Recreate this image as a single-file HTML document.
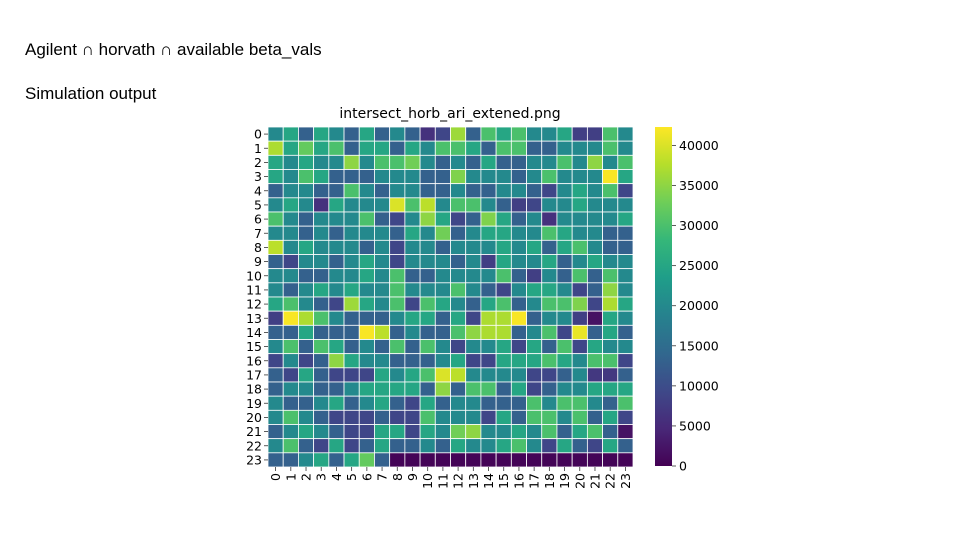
<!DOCTYPE html>
<html><head><meta charset="utf-8">
<style>
body{margin:0;width:960px;height:540px;background:#fff;overflow:hidden;font-family:"Liberation Sans",sans-serif;}
.t{position:absolute;left:25px;font-size:17px;color:#000;}
</style></head>
<body>
<div class="t" style="top:40px">Agilent ∩ horvath ∩ available beta_vals</div>
<div class="t" style="top:84px">Simulation output</div>
<svg id="chart" width="960" height="540" style="position:absolute;left:0;top:0">
<defs><linearGradient id="cbg" x1="0" y1="1" x2="0" y2="0"></linearGradient></defs>
<text x="450" y="118" text-anchor="middle" font-family="DejaVu Sans,sans-serif" font-size="14">intersect_horb_ari_extened.png</text>
</svg>
<script>
// values in thousands
const rowLabels = ["0","1","2","3","4","5","6","7","8","9","10","11","12","13","14","15","16","17","18","19","20","21","22","23"];
const colLabels = ["0","1","2","3","4","5","6","7","8","9","10","11","12","13","14","15","16","17","18","19","20","21","22","23"];
const values = [
[20,25,13,25,20,13,25,13,20,13,6,9,36,13,30,25,30,20,20,25,8,8,30,20],
[37,25,32,25,30,13,25,25,13,25,20,30,30,25,13,30,30,13,13,20,20,20,30,20],
[25,20,25,20,20,35,20,30,30,33,20,13,20,13,25,13,13,20,20,30,20,35,20,30],
[25,20,30,25,13,13,13,20,20,20,13,13,34,20,20,20,13,20,30,20,20,20,42,25],
[13,20,20,13,13,30,20,13,20,20,13,13,20,13,13,20,20,13,9,20,25,20,30,9],
[20,25,20,6,25,20,20,20,40,30,38,20,30,30,20,13,8,9,20,20,25,20,20,20],
[30,20,13,20,20,20,30,13,9,20,35,25,9,13,34,25,13,20,6,20,20,20,20,25],
[20,20,13,20,13,20,20,20,13,25,20,33,13,20,25,25,20,20,30,25,20,20,13,13],
[38,20,25,20,20,20,13,20,9,20,20,13,20,20,20,25,20,25,13,25,30,20,13,13],
[13,9,20,20,13,20,25,20,9,20,20,20,13,20,8,25,20,20,25,13,20,25,20,20],
[20,20,13,13,20,20,25,20,30,13,13,20,20,20,20,30,13,8,20,13,30,13,30,20],
[20,13,20,25,20,25,20,20,30,20,20,20,30,20,13,9,20,25,25,20,9,13,35,20],
[25,30,20,13,9,36,25,20,30,9,30,25,20,13,25,30,13,20,30,30,34,9,37,25],
[8,42,37,30,20,13,13,13,20,25,25,13,25,9,37,37,42,13,20,20,8,2,25,20],
[13,13,25,13,13,13,42,38,13,20,13,13,30,35,37,37,13,20,30,9,41,13,25,13],
[20,30,13,30,25,13,20,13,30,13,30,20,9,20,20,25,9,25,13,30,9,25,20,20],
[9,20,9,13,35,25,20,20,13,13,13,20,25,9,9,25,25,25,30,25,20,30,30,9],
[13,9,25,13,9,9,9,25,20,25,30,40,38,20,20,20,20,9,9,13,20,7,7,13],
[13,20,20,13,13,20,25,25,25,25,13,35,13,30,30,13,25,9,13,20,20,25,25,25],
[20,13,13,20,25,13,20,25,13,9,25,13,20,20,13,13,13,30,20,30,30,20,13,30],
[20,30,20,13,9,9,9,13,9,9,30,20,20,20,9,25,13,30,30,20,30,13,25,9],
[13,20,25,20,13,9,9,25,25,9,25,20,33,35,20,20,25,20,30,13,25,30,13,2],
[20,30,13,9,25,9,13,25,13,13,20,13,25,20,20,25,30,20,9,25,13,9,25,13],
[13,13,20,25,13,25,32,13,0.4,0.4,0.4,0.4,0.4,0.4,0.4,0.4,0.4,0.4,0.4,0.4,0.4,0.4,0.4,0.4]
];
const cbTickValues = [0,5,10,15,20,25,30,35,40];
const cbTickLabels = ["0","5000","10000","15000","20000","25000","30000","35000","40000"];
const vmin = 0, vmax = 42.3;

const viridis=["#440154","#482878","#3e4989","#31688e","#26828e","#1f9e89","#35b779","#6ece58","#b5de2b","#fde725"];
function hex(h){return [1,3,5].map(i=>parseInt(h.substr(i,2),16));}
function color(v){let t=Math.max(0,Math.min(1,(v-vmin)/(vmax-vmin)))*(viridis.length-1);
 let i=Math.min(Math.floor(t),viridis.length-2),f=t-i;const a=hex(viridis[i]),b=hex(viridis[i+1]);
 return "rgb("+a.map((x,k)=>Math.round(x+(b[k]-x)*f)).join(",")+")";}
const NS="http://www.w3.org/2000/svg";const svg=document.getElementById("chart");
const X0=268,X1=633,Y0=127,Y1=467;
const cw=(X1-X0)/colLabels.length, ch=(Y1-Y0)/rowLabels.length;
function xs(j){return X0+j*cw;} function ys(i){return Y0+i*ch;}
function mk(tag,attrs){const e=document.createElementNS(NS,tag);for(const k in attrs)e.setAttribute(k,attrs[k]);svg.appendChild(e);return e;}
values.forEach((row,i)=>row.forEach((v,j)=>{
 const r=mk("rect",{x:xs(j),y:ys(i),width:cw,height:ch,fill:color(v),stroke:"#fff","stroke-width":0.8});
 
 
}));
rowLabels.forEach((l,i)=>{
 const cy=ys(i)+ch/2;
 const tk=mk("line",{x1:X0-4,x2:X0,y1:cy,y2:cy,stroke:"#333","stroke-width":0.8});
 
 
 const t=mk("text",{x:X0-6,y:cy+4.5,"text-anchor":"end","font-family":"DejaVu Sans,sans-serif","font-size":12.5});
 t.textContent=l;
 
 
});
colLabels.forEach((l,j)=>{
 const cx=xs(j)+cw/2;
 const tk=mk("line",{x1:cx,x2:cx,y1:Y1,y2:Y1+4,stroke:"#333","stroke-width":0.8});
 
 
 const t=mk("text",{x:cx+4.5,y:Y1+6,"text-anchor":"end","font-family":"DejaVu Sans,sans-serif","font-size":12.5,transform:"rotate(-90 "+(cx+4.5)+" "+(Y1+6)+")"});
 t.textContent=l;
 
 
});
// colorbar
const g=document.getElementById("cbg");
viridis.forEach((c,k)=>{const s=document.createElementNS(NS,"stop");s.setAttribute("offset",(k/(viridis.length-1)));s.setAttribute("stop-color",c);g.appendChild(s);});
const CX=655,CW=17,CY0=127,CY1=466;
const cb=mk("rect",{x:CX,y:CY0,width:CW,height:CY1-CY0,fill:"url(#cbg)"});


function cby(v){return CY1-(v-vmin)/(vmax-vmin)*(CY1-CY0);}
cbTickValues.forEach((v,k)=>{
 const y=cby(v);
 const tk=mk("line",{x1:CX+CW,x2:CX+CW+4,y1:y,y2:y,stroke:"#333","stroke-width":0.8});
 
 
 const t=mk("text",{x:CX+CW+7,y:y+4.5,"font-family":"DejaVu Sans,sans-serif","font-size":12.5});
 t.textContent=cbTickLabels[k];
 
 
});
</script>
</body></html>
